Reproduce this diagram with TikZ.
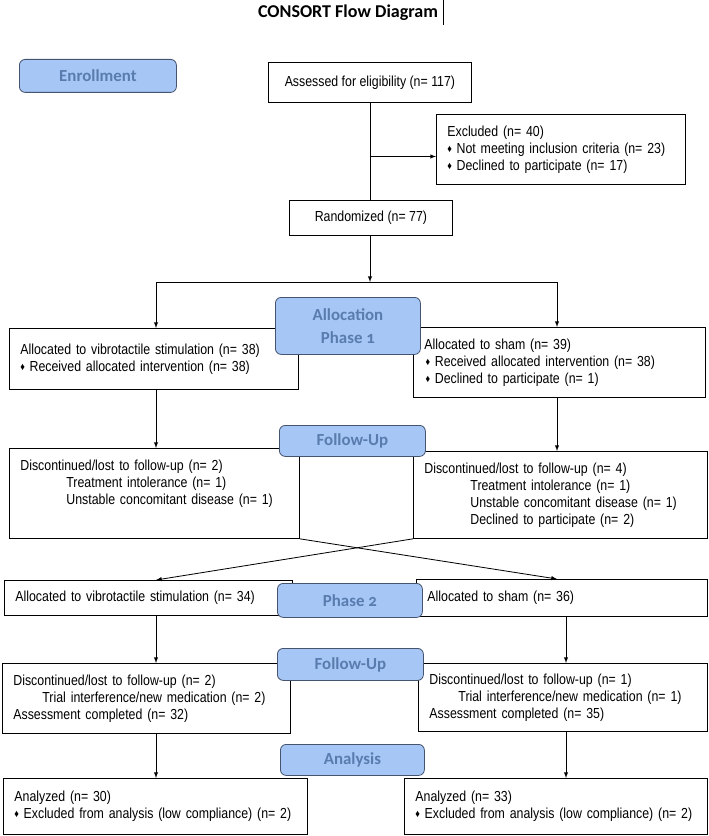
\documentclass[tikz,border=0pt]{standalone}
\usepackage{fontspec}
\setmainfont{Liberation Sans}[FakeStretch=0.85]
\newfontfamily\headfont{Carlito}[Numbers=OldStyle]
\usepackage{xcolor}
\usepackage{tikz}
\usetikzlibrary{arrows}
\usetikzlibrary{calc}
\usetikzlibrary{positioning}
\definecolor{stagefill}{RGB}{166,198,246}
\definecolor{stagetext}{RGB}{88,124,174}
\definecolor{stageline}{RGB}{70,84,110}
\newcommand{\bul}{\raisebox{0.1ex}{\fontsize{9}{9}\selectfont ♦}\hspace{4pt}}

\begin{document}
\begin{tikzpicture}[x=0.3mm,y=-0.3mm,->,>=latex,line width=0.7pt]
	\tikzstyle{flow}=[draw, fill=white, anchor=north west, align=left, inner xsep=3.3mm, inner ysep=1pt, font=\fontsize{12.4}{14.5}\selectfont]
	\tikzstyle{stage}=[draw=stageline, fill=stagefill, rounded corners=5pt, anchor=north west, align=center, inner sep=0pt, text=stagetext, font=\headfont\bfseries\fontsize{14.4}{20}\selectfont]
	\useasboundingbox (0,0) rectangle (709,836);

	\node[font=\headfont\bfseries\fontsize{15.4}{18}\selectfont] (title) at (348,13) {CONSORT Flow Diagram};
	\draw[-,line width=0.4pt] ([xshift=1pt,yshift=1pt]title.north east) -- ([xshift=1pt]title.south east);

	% enrollment
	\node[flow,align=center,minimum width=60.9mm,minimum height=12mm] (assess) at (268,62) {Assessed for eligibility (n= 117)};
	\node[flow,text width=68.1mm,minimum height=21mm] (excl) at (436,114) {Excluded (n= 40)\\ \bul Not meeting inclusion criteria (n= 23)\\ \bul Declined to participate (n= 17)};
	\node[flow,align=center,minimum width=48.9mm,minimum height=10.5mm] (rand) at (289,200) {Randomized (n= 77)};

	% phase 1
	\node[flow,text width=80.1mm,minimum height=18.3mm] (allocL) at (9,328) {Allocated to vibrotactile stimulation (n= 38)\\ \bul Received allocated intervention (n= 38)};
	\node[flow,text width=81mm,minimum height=21mm] (allocR) at (413,327) {Allocated to sham (n= 39)\\ \hspace*{1pt}\bul Received allocated intervention (n= 38)\\ \hspace*{1pt}\bul Declined to participate (n= 1)};
	\node[flow,text width=80.4mm,minimum height=27mm] (discL) at (9,448) {Discontinued/lost to follow-up (n= 2)\\ \hspace*{13.8mm}Treatment intolerance (n= 1)\\ \hspace*{13.8mm}Unstable concomitant disease (n= 1)\rule[-6.6mm]{0pt}{0pt}};
	\node[flow,text width=81.6mm,minimum height=26.1mm] (discR) at (413,451) {Discontinued/lost to follow-up (n= 4)\\ \hspace*{13.8mm}Treatment intolerance (n= 1)\\ \hspace*{13.8mm}Unstable concomitant disease (n= 1)\\ \hspace*{13.8mm}Declined to participate (n= 2)};

	% phase 2
	\node[flow,text width=79.8mm,minimum height=10.5mm] (ph2L) at (4,580) {Allocated to vibrotactile stimulation (n= 34)};
	\node[flow,text width=80.7mm,minimum height=11.1mm] (ph2R) at (416,579) {Allocated to sham (n= 36)};
	\node[flow,text width=79.8mm,minimum height=21mm] (fuL) at (2,663) {Discontinued/lost to follow-up (n= 2)\\ \hspace*{8.7mm}Trial interference/new medication (n= 2)\\ Assessment completed (n= 32)};
	\node[flow,text width=80.1mm,minimum height=20.4mm] (fuR) at (418,663) {Discontinued/lost to follow-up (n= 1)\\ \hspace*{8.7mm}Trial interference/new medication (n= 1)\\ Assessment completed (n= 35)};
	\node[flow,text width=84.6mm,minimum height=16.8mm] (anL) at (3,778) {Analyzed (n= 30)\\ \bul Excluded from analysis (low compliance) (n= 2)};
	\node[flow,text width=84.3mm,minimum height=16.8mm] (anR) at (404,778) {Analyzed (n= 33)\\ \bul Excluded from analysis (low compliance) (n= 2)};

	% stage labels
	\node[stage,minimum width=47.1mm,minimum height=9.9mm] (enroll) at (19,59) {Enrollment};
	\node[stage,minimum width=43.5mm,minimum height=17.1mm] (alloc) at (275,297) {Allocation\\Phase 1};
	\node[stage,minimum width=43.8mm,minimum height=9.3mm] (follow1) at (279,425) {Follow-Up};
	\node[stage,minimum width=43.5mm,minimum height=10.2mm] (phase2) at (277,583) {Phase 2};
	\node[stage,minimum width=43.8mm,minimum height=9.6mm] (follow2) at (277,648) {Follow-Up};
	\node[stage,minimum width=43.2mm,minimum height=9.3mm] (analysis) at (280,744) {Analysis};

	% connectors
	\coordinate (lcol) at (156,0);
	\coordinate (rcol) at (557,0);
	\coordinate (rcolb) at (566,0);
	\coordinate (split) at (370,282);
	\coordinate (exclin) at ($(excl.north west)!0.6!(excl.south west)$);
	\draw[-] (assess.south) -- (assess.south |- rand.north);
	\draw (assess.south |- exclin) -- (exclin);
	\draw (split |- rand.south) -- (split);
	\draw (split) -| (lcol |- allocL.north);
	\draw (split) -| (rcol |- allocR.north);
	\draw (lcol |- allocL.south) -- (lcol |- discL.north);
	\draw (rcol |- allocR.south) -- (rcol |- discR.north);
	\draw (discL.south east) -- (rcol |- ph2R.north);
	\draw (discR.south west) -- (lcol |- ph2L.north);
	\draw (lcol |- ph2L.south) -- (lcol |- fuL.north);
	\draw (rcolb |- ph2R.south) -- (rcolb |- fuR.north);
	\draw (lcol |- fuL.south) -- (lcol |- anL.north);
	\draw (rcolb |- fuR.south) -- (rcolb |- anR.north);
\end{tikzpicture}
\end{document}
